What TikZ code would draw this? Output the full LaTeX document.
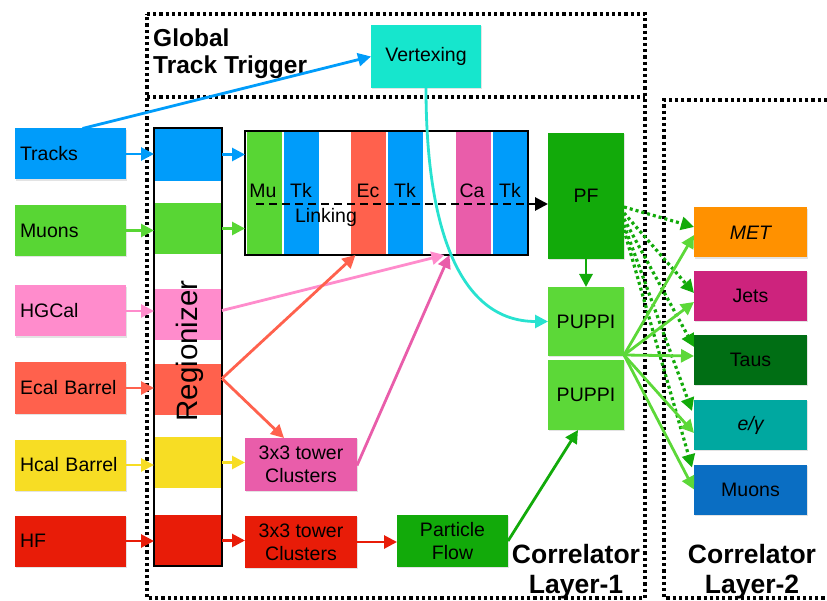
\documentclass[tikz,border=0pt]{standalone}
\usepackage{fontspec}
\setmainfont{Liberation Sans}
\usetikzlibrary{arrows.meta,shadows}

% palette
\definecolor{trackblue}{RGB}{0,156,250}
\definecolor{muongreen}{RGB}{88,214,52}
\definecolor{hgpink}{RGB}{255,140,204}
\definecolor{ecalred}{RGB}{255,97,77}
\definecolor{hcalyellow}{RGB}{247,221,36}
\definecolor{hfred}{RGB}{232,28,8}
\definecolor{clpink}{RGB}{233,93,170}
\definecolor{pfgreen}{RGB}{18,170,10}
\definecolor{puppigreen}{RGB}{92,216,56}
\definecolor{vtxcyan}{RGB}{22,230,205}
\definecolor{vtxline}{RGB}{40,226,208}
\definecolor{metorange}{RGB}{255,145,0}
\definecolor{jetsmag}{RGB}{205,35,125}
\definecolor{tausgreen}{RGB}{0,110,20}
\definecolor{egteal}{RGB}{0,168,160}
\definecolor{muonsblue}{RGB}{10,110,195}

\newcommand{\dgbody}{\fontsize{19.5}{23}\selectfont}

\tikzset{
  blk/.style={inner sep=0pt, outer sep=0pt, align=center, font=\dgbody, text=black},
  card/.style={blk, drop shadow={shadow xshift=1.2pt, shadow yshift=-1.2pt, opacity=0.22}},
  inbox/.style={card, minimum height=51pt, text width=101pt, inner xsep=5pt, align=left},
  outbox/.style={card, minimum width=113pt, minimum height=50pt},
  regblk/.style={blk, minimum width=68pt},
  stripe/.style={blk, minimum width=35pt, minimum height=124pt},
  frame/.style={line width=3.4pt, dash pattern=on 3.2pt off 3pt, black},
  arr/.style={line width=2.8pt, -{Triangle[length=13pt,width=13pt]}},
  dotarr/.style={line width=3.2pt, pfgreen, dash pattern=on 3pt off 3pt, -{Triangle[length=13pt,width=13pt]}},
  solarr/.style={line width=2.8pt, puppigreen, -{Triangle[length=13pt,width=13pt]}},
  titlebig/.style={inner sep=0pt, font=\fontsize{26.5}{30}\selectfont\bfseries, align=center},
}

\begin{document}
\begin{tikzpicture}[x=1pt,y=-1pt]
\useasboundingbox (0,0) rectangle (827,601);

% dotted frames
\draw[frame] (147,14) -- (645,14) -- (645,598) -- (147,598) -- cycle;
\draw[frame] (147,97) -- (645,97);
\draw[frame] (827,100) -- (664,100) -- (664,598) -- (827,598);

% titles
\node[inner sep=0pt, anchor=north west, align=left,
      font=\fontsize{24.5}{26.5}\selectfont\bfseries] (gtt) at (153,29) {Global\\Track Trigger};
\node[titlebig, anchor=north] (cl1) at (576,544) {Correlator\\Layer-1};
\node[titlebig, anchor=north] (cl2) at (752,544) {Correlator\\Layer-2};

% inputs
\node[inbox, fill=trackblue]  (tracks) at (70.5,154)  {Tracks};
\node[inbox, fill=muongreen]  (muons)  at (70.5,230.5){Muons};
\node[inbox, fill=hgpink]     (hgcal)  at (70.5,311)  {HGCal};
\node[inbox, fill=ecalred]    (ecal)   at (70.5,388)  {Ecal Barrel};
\node[inbox, fill=hcalyellow] (hcal)   at (70.5,465)  {Hcal Barrel};
\node[inbox, fill=hfred]      (hf)     at (70.5,541)  {HF};

% regionizer
\node[regblk, fill=trackblue,  minimum height=53pt] (rb1) at (188,154.5) {};
\node[regblk, fill=muongreen,  minimum height=51pt] (rb2) at (188,228.5) {};
\node[regblk, fill=hgpink,     minimum height=51pt] (rb3) at (188,314.5) {};
\node[regblk, fill=ecalred,    minimum height=51pt] (rb4) at (188,389.5) {};
\node[regblk, fill=hcalyellow, minimum height=51pt] (rb5) at (188,462.5) {};
\node[regblk, fill=hfred,      minimum height=51pt] (rb6) at (188,540.5) {};
\node[blk, draw=black, line width=1.4pt, minimum width=68pt, minimum height=438pt] (reg) at (188,347) {};
\node[inner sep=0pt, rotate=90, font=\fontsize{29.5}{29.5}\selectfont] (regtxt) at (190,351) {Regionizer};

% linking block
\node[stripe, fill=muongreen] (smu)  at (264,193) {};
\node[stripe, fill=trackblue] (stk1) at (301.5,193) {};
\node[stripe, fill=ecalred]   (sec)  at (368,193) {};
\node[stripe, fill=trackblue] (stk2) at (405.5,193) {};
\node[stripe, fill=clpink]    (sca)  at (473.5,193) {};
\node[stripe, fill=trackblue] (stk3) at (510.5,193) {};
\node[blk, draw=black, line width=2pt, minimum width=283pt, minimum height=124pt] (link) at (386.5,193) {};
\foreach \nm/\xx/\tx in {lmu/263/Mu, ltk1/301/Tk, lec/368/Ec, ltk2/405/Tk, lca/472/Ca, ltk3/510/Tk}
  \node[blk, anchor=base] (\nm) at (\xx,198) {\tx};
\node[blk, anchor=base] (lnk) at (326,223) {Linking};

% correlator layer-1 blocks
\node[card, fill=vtxcyan, minimum width=110pt, minimum height=63pt] (vtx) at (426,56.5) {Vertexing};
\node[card, fill=pfgreen, minimum width=76pt, minimum height=126pt] (pf) at (586,196) {PF};
\node[card, fill=puppigreen, minimum width=76pt, minimum height=69pt] (puppi1) at (586,321.5) {PUPPI};
\node[card, fill=puppigreen, minimum width=76pt, minimum height=70pt] (puppi2) at (586,395) {PUPPI};
\node[card, fill=clpink, minimum width=112pt, minimum height=53pt] (pcl) at (301,464.5) {3x3 tower\\Clusters};
\node[card, fill=hfred, minimum width=112pt, minimum height=52pt] (rcl) at (301,542) {3x3 tower\\Clusters};
\node[card, fill=pfgreen, minimum width=111pt, minimum height=52pt] (pflow) at (452.5,541) {Particle\\Flow};

% layer-2 outputs
\node[outbox, fill=metorange] (met)  at (750.5,232.5) {\itshape MET};
\node[outbox, fill=jetsmag]   (jets) at (750.5,296)   {Jets};
\node[outbox, fill=tausgreen] (taus) at (750.5,360)   {Taus};
\node[outbox, fill=egteal]    (eg)   at (750.5,425)   {\itshape e/γ};
\node[outbox, fill=muonsblue] (mus)  at (750.5,489.5) {Muons};

% inputs into the regionizer
\draw[arr, trackblue]  (tracks.east) -- (tracks.east -| reg.west);
\draw[arr, muongreen]  (muons.east)  -- (muons.east -| reg.west);
\draw[arr, hgpink]     (hgcal.east)  -- (hgcal.east -| reg.west);
\draw[arr, ecalred]    (ecal.east)   -- (ecal.east -| reg.west);
\draw[arr, hcalyellow] (hcal.east)   -- (hcal.east -| reg.west);
\draw[arr, hfred]      (hf.east)     -- (hf.east -| reg.west);

% regionizer outputs
\draw[arr, trackblue]  (rb1.east) -- (rb1.east -| link.west);
\draw[arr, muongreen]  (rb2.east) -- (rb2.east -| link.west);
\draw[arr, hgpink]     ([yshift=4pt]rb3.east) -- ([xshift=58pt]link.south);
\draw[arr, ecalred]    ([yshift=11pt]rb4.east) -- ([xshift=-31pt]link.south);
\draw[arr, ecalred]    ([yshift=11pt]rb4.east) -- ([xshift=-17pt]pcl.north);
\draw[arr, hcalyellow] (rb5.east) -- (rb5.east -| pcl.west);
\draw[arr, hfred]      (rb6.east) -- (rb6.east -| rcl.west);

% clusters and particle flow
\draw[arr, clpink] ([yshift=-1pt]pcl.east) -- ([xshift=63pt]link.south);
\draw[arr, hfred]  (rcl.east) -- (rcl.east -| pflow.west);
\draw[arr, pfgreen] (pflow.east) -- ([xshift=-8pt]puppi2.south);

% linking into PF, PF into PUPPI
\draw[line width=2.8pt, black, dash pattern=on 8pt off 5pt, -{Triangle[length=13pt,width=13pt]}]
  ([xshift=11pt]link.west |- 0,204) -- (pf.west |- 0,204);
\draw[arr, pfgreen] (pf.south) -- (puppi1.north);

% track trigger path
\draw[arr, trackblue] ([xshift=12pt]tracks.north) -- (vtx.west);
\draw[arr, vtxline] (vtx.south) .. controls +(0,142) and +(-88,0) .. (puppi1.west);

% layer-2 fan-out
\draw[dotarr] ([yshift=-11pt]pf.east) -- ([yshift=5.5pt]met.west);
\draw[dotarr] ([yshift=-17pt]pf.east) -- ([yshift=3pt]jets.west);
\draw[dotarr] ([yshift=-23pt]pf.east) -- ([yshift=13pt]taus.west);
\draw[dotarr] ([yshift=-29pt]pf.east) -- ([xshift=-2pt,yshift=14pt]eg.west);
\draw[dotarr] ([yshift=-34pt]pf.east) -- ([xshift=-2pt,yshift=22pt]mus.west);
\draw[solarr] ([yshift=-33.5pt]puppi1.east) -- ([yshift=-2.5pt]met.west);
\draw[solarr] ([yshift=-33.5pt]puppi1.east) -- ([yshift=-6pt]jets.west);
\draw[solarr] ([yshift=-33.5pt]puppi1.east) -- ([yshift=4pt]taus.west);
\draw[solarr] ([yshift=-33.5pt]puppi1.east) -- ([yshift=-8pt]eg.west);
\draw[solarr] ([yshift=-33.5pt]puppi1.east) -- (mus.west);
\end{tikzpicture}
\end{document}
